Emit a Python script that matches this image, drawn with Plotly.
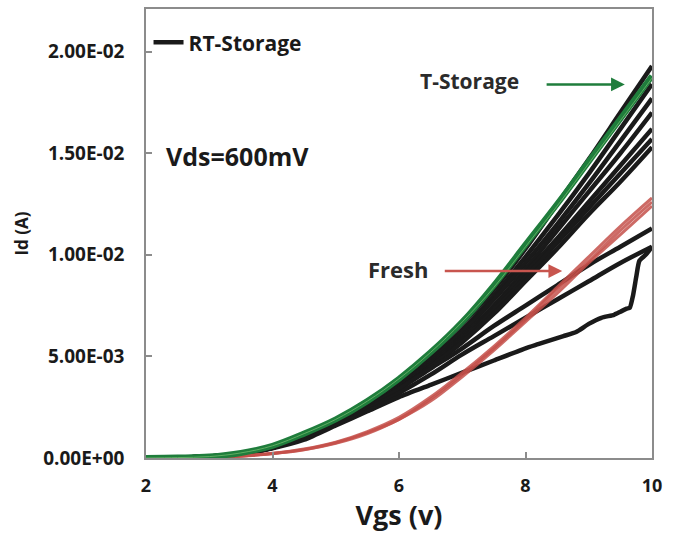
import plotly.graph_objects as go

# ---------------- data ----------------
vgs = [2.0, 2.5, 3.0, 3.5, 4.0, 4.5, 5.0, 5.5, 6.0, 6.5, 7.0, 7.5, 8.0, 8.5, 9.0, 9.5, 10.0]

rt_b1 = [0, 0.00002, 0.00007, 0.00023, 0.00057, 0.0011, 0.0018, 0.0027, 0.0038, 0.0051, 0.0066, 0.0083, 0.0103, 0.0125, 0.0147, 0.0170, 0.0193]
rt_b2 = [0, 0.00002, 0.00007, 0.00022, 0.00055, 0.0011, 0.0018, 0.0027, 0.0037, 0.0049, 0.0063, 0.0080, 0.0099, 0.0119, 0.0140, 0.0162, 0.0184]
rt_b3 = [0, 0.00002, 0.00007, 0.00022, 0.00054, 0.0011, 0.0018, 0.0026, 0.0036, 0.0048, 0.0062, 0.0078, 0.0096, 0.0115, 0.0135, 0.0156, 0.0177]
rt_b4 = [0, 0.00002, 0.00007, 0.00021, 0.00053, 0.0011, 0.0018, 0.0026, 0.0036, 0.0047, 0.0060, 0.0075, 0.0093, 0.0112, 0.0131, 0.0150, 0.0170]
rt_b5 = [0, 0.00002, 0.00007, 0.00021, 0.00052, 0.0011, 0.0018, 0.0026, 0.0035, 0.0046, 0.0059, 0.0074, 0.0091, 0.0108, 0.0126, 0.0144, 0.0162]
rt_b6 = [0, 0.00002, 0.00007, 0.00020, 0.00051, 0.0010, 0.0017, 0.0025, 0.0034, 0.0045, 0.0058, 0.0073, 0.0089, 0.0106, 0.0123, 0.0140, 0.0157]
rt_b7 = [0, 0.00002, 0.00007, 0.00020, 0.00050, 0.0010, 0.0017, 0.0025, 0.0034, 0.0045, 0.0057, 0.0071, 0.0087, 0.0103, 0.0120, 0.0136, 0.0153]
rt_l1 = [0, 0.00002, 0.00007, 0.00020, 0.00050, 0.0010, 0.0017, 0.0025, 0.0034, 0.0044, 0.0054, 0.0065, 0.0075, 0.0085, 0.0095, 0.0104, 0.0113]
rt_l2 = [0, 0.00002, 0.00007, 0.00020, 0.00050, 0.0010, 0.0017, 0.0024, 0.0032, 0.0041, 0.0051, 0.0060, 0.0069, 0.0078, 0.0087, 0.0096, 0.0104]

hook_vgs = [2.0, 2.5, 3.0, 3.5, 4.0, 4.5, 5.0, 5.5, 6.0, 6.5, 7.0, 7.5, 8.0, 8.2, 8.4, 8.6, 8.8, 9.0,
            9.2, 9.4, 9.5, 9.6, 9.65, 9.7, 9.75, 9.8, 9.9, 10.0]
rt_hook = [0, 0.00002, 0.00007, 0.00020, 0.00048, 0.0009, 0.0016, 0.0023, 0.0030, 0.0036, 0.0042, 0.0048, 0.0054, 0.0056,
           0.0058, 0.0060, 0.0062, 0.0066, 0.0069, 0.00705, 0.0072, 0.00735, 0.0074, 0.0080, 0.0089, 0.0097, 0.0100, 0.0104]

ts_g1 = [0, 0.00002, 0.00007, 0.00025, 0.0006, 0.0012, 0.0019, 0.0028, 0.0039, 0.0052, 0.0067, 0.0085, 0.0105, 0.0125, 0.0146, 0.0167, 0.0188]
ts_g2 = [0, 0.00002, 0.00007, 0.00025, 0.0006, 0.0012, 0.0019, 0.0028, 0.0039, 0.0052, 0.0067, 0.0084, 0.0104, 0.0124, 0.0145, 0.0166, 0.0187]

fr_r1 = [0, 0.00001, 0.00003, 0.00010, 0.00022, 0.00042, 0.00075, 0.00125, 0.0019, 0.0029, 0.0041, 0.0054, 0.0068, 0.0083, 0.0097, 0.0112, 0.0126]
fr_r2 = [0, 0.00001, 0.00003, 0.00010, 0.00023, 0.00044, 0.00078, 0.0013, 0.0020, 0.0030, 0.0042, 0.0055, 0.0069, 0.0084, 0.0099, 0.0114, 0.0128]
fr_r3 = [0, 0.00001, 0.00003, 0.00009, 0.00021, 0.00040, 0.00072, 0.0012, 0.0019, 0.0028, 0.0040, 0.0053, 0.0067, 0.0081, 0.0096, 0.0110, 0.0124]

y_tickvals = [0, 0.005, 0.01, 0.015, 0.02]
y_ticktext = ["0.00E+00", "5.00E-03", "1.00E-02", "1.50E-02", "2.00E-02"]
x_tickvals = [2, 4, 6, 8, 10]

BLACK = "#1a1a1a"
GREEN = "#1f7d3c"
GREEN_LIGHT = "#5fae62"
RED = "rgba(196,80,74,0.85)"
FONT = "Open Sans"

fig = go.Figure()

black_sets = [rt_b1, rt_b2, rt_b3, rt_b4, rt_b5, rt_b6, rt_b7, rt_l1, rt_l2]
for i, ys in enumerate(black_sets):
    fig.add_trace(go.Scatter(x=vgs, y=ys, mode="lines", name="RT-Storage",
                             line=dict(color=BLACK, width=4.5, shape="spline", smoothing=1),
                             showlegend=(i == 0)))
fig.add_trace(go.Scatter(x=hook_vgs, y=rt_hook, mode="lines", name="RT-Storage",
                         line=dict(color=BLACK, width=4.5, shape="spline", smoothing=0.5), showlegend=False))

for ys in [fr_r1, fr_r2, fr_r3]:
    fig.add_trace(go.Scatter(x=vgs, y=ys, mode="lines", name="Fresh",
                             line=dict(color=RED, width=3, shape="spline", smoothing=1), showlegend=False))

fig.add_trace(go.Scatter(x=vgs, y=ts_g1, mode="lines", name="T-Storage",
                         line=dict(color=GREEN, width=6, shape="spline", smoothing=1), showlegend=False))
fig.add_trace(go.Scatter(x=vgs, y=ts_g2, mode="lines", name="T-Storage",
                         line=dict(color=GREEN_LIGHT, width=1, shape="spline", smoothing=1), showlegend=False))

axis_color = "#8c8c8c"
fig.update_xaxes(range=[2, 10], tickvals=x_tickvals, ticks="inside", ticklen=6, tickwidth=1.5,
                 tickcolor=axis_color, showline=True, linecolor=axis_color, linewidth=1.5, mirror=True,
                 showgrid=False, zeroline=False, ticklabelstandoff=11,
                 tickfont=dict(family=FONT, size=18, weight="bold", color="#1a1a1a"),
                 title=dict(text="Vgs (v)", standoff=8,
                            font=dict(family=FONT, size=27, weight="bold", color="#1a1a1a")))
fig.update_yaxes(range=[0, 0.0221], tickvals=y_tickvals, ticktext=y_ticktext, ticks="inside", ticklen=6,
                 tickwidth=1.5, tickcolor=axis_color, showline=True, linecolor=axis_color, linewidth=1.5,
                 mirror=True, showgrid=False, zeroline=False, ticklabelstandoff=16,
                 tickfont=dict(family=FONT, size=19, weight="bold", color="#1a1a1a"),
                 title=dict(text="Id (A)", standoff=10,
                            font=dict(family=FONT, size=17, weight="bold", color="#1a1a1a")))

txt = "#2b2b2b"
fig.add_annotation(x=3.44, y=0.01485, text="Vds=600mV", showarrow=False,
                   font=dict(family=FONT, size=25, weight="bold", color="#1a1a1a"))
fig.add_annotation(x=7.12, y=0.01855, text="T-Storage", showarrow=False,
                   font=dict(family=FONT, size=21, weight="bold", color=txt))
fig.add_annotation(x=5.98, y=0.0093, text="Fresh", showarrow=False,
                   font=dict(family=FONT, size=22, weight="bold", color=txt))
fig.add_annotation(x=9.57, y=0.01839, ax=8.31, ay=0.01839, axref="x", ayref="y", text="",
                   showarrow=True, arrowhead=2, arrowsize=1.1, arrowwidth=2.5, arrowcolor=GREEN)
fig.add_annotation(x=8.58, y=0.0092, ax=6.70, ay=0.0092, axref="x", ayref="y", text="",
                   showarrow=True, arrowhead=2, arrowsize=1.1, arrowwidth=2.5, arrowcolor="#c8554e")

fig.update_layout(
    width=678, height=533,
    margin=dict(l=146, r=26, t=7, b=75),
    paper_bgcolor="white", plot_bgcolor="white",
    font=dict(family=FONT, weight="bold"),
    legend=dict(x=0.005, y=0.925, xanchor="left", yanchor="middle", bgcolor="rgba(0,0,0,0)",
                itemwidth=30, font=dict(family=FONT, size=21, weight="bold", color="#1a1a1a")),
    showlegend=True,
)

fig.write_html("out.html")
